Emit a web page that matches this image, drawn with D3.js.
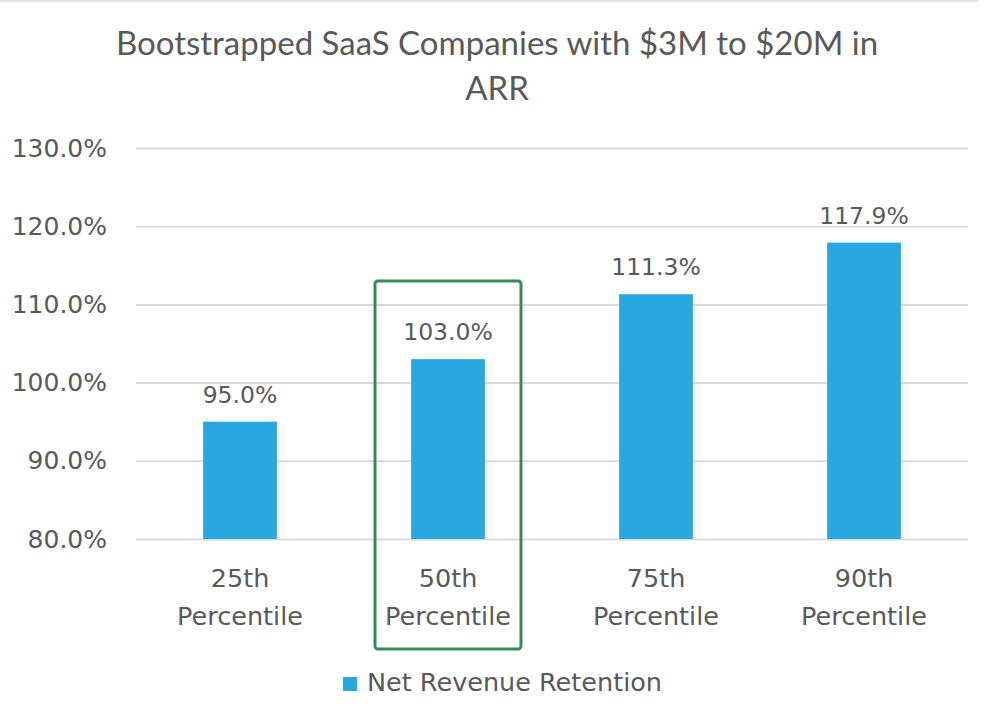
<!DOCTYPE html>
<html>
<head>
<meta charset="utf-8">
<script src="https://cdn.jsdelivr.net/npm/d3@7"></script>
<style>
  body { margin: 0; background: #fff; }
  text { fill: #595959; }
</style>
</head>
<body>
<script>
// chart data
const categories = ["25th|Percentile", "50th|Percentile", "75th|Percentile", "90th|Percentile"];
const values = [95.0, 103.0, 111.3, 117.9];
const yTicks = [80, 90, 100, 110, 120, 130];
const titleLines = ["Bootstrapped SaaS Companies with $3M to $20M in", "ARR"];
const seriesName = "Net Revenue Retention";
const highlighted = "50th|Percentile";

const w = 990, h = 723;
const plotLeft = 136, plotRight = 968, plotTop = 148, plotBottom = 539;
const labelFont = "'DejaVu Sans', sans-serif";

const svg = d3.select("body").append("svg")
  .attr("width", w)
  .attr("height", h);

// faint frame line at top
svg.append("line")
  .attr("x1", 0).attr("x2", 978)
  .attr("y1", 1).attr("y2", 1)
  .attr("stroke", "#e3e3e3").attr("stroke-width", 2);

const x = d3.scaleBand()
  .domain(categories)
  .range([plotLeft, plotRight])
  .paddingInner(0.645)
  .paddingOuter(0.3225);

const y = d3.scaleLinear()
  .domain([80, 130])
  .range([plotBottom, plotTop]);

// title
svg.append("text")
  .attr("x", 497).attr("y", 55)
  .attr("text-anchor", "middle")
  .style("font-family", "Lato, 'Open Sans', sans-serif")
  .style("font-size", "33px")
  .selectAll("tspan")
  .data(titleLines)
  .enter().append("tspan")
  .attr("x", 497)
  .attr("dy", (d, i) => i ? 45 : 0)
  .text(d => d);

// gridlines + y labels
const yAxis = d3.axisLeft(y)
  .tickValues(yTicks)
  .tickSize(-(plotRight - plotLeft))
  .tickPadding(29)
  .tickFormat(d => d.toFixed(1) + "%");

const gy = svg.append("g")
  .attr("transform", "translate(" + plotLeft + ",0)")
  .call(yAxis);
gy.select(".domain").remove();
gy.selectAll(".tick line").attr("stroke", "#d9d9d9").attr("stroke-width", 2);
gy.selectAll(".tick text")
  .style("font-family", labelFont)
  .style("font-size", "25px")
  .attr("fill", "#595959");

// bars
svg.selectAll("rect.bar")
  .data(values)
  .enter()
  .append("rect")
  .attr("class", "bar")
  .attr("x", (d, i) => x(categories[i]))
  .attr("y", d => y(d))
  .attr("width", x.bandwidth())
  .attr("height", d => y(80) - y(d))
  .attr("fill", "#29a8e0");

// value labels
svg.selectAll("text.val")
  .data(values)
  .enter()
  .append("text")
  .attr("class", "val")
  .attr("x", (d, i) => x(categories[i]) + x.bandwidth() / 2)
  .attr("y", d => y(d) - 19)
  .attr("text-anchor", "middle")
  .style("font-family", labelFont)
  .style("font-size", "23.5px")
  .text(d => d.toFixed(1) + "%");

// x labels
const xl = svg.selectAll("text.xl")
  .data(categories)
  .enter()
  .append("text")
  .attr("class", "xl")
  .attr("text-anchor", "middle")
  .style("font-family", labelFont)
  .style("font-size", "25.5px");
xl.selectAll("tspan")
  .data(d => d.split("|").map(s => ({ s: s, c: d })))
  .enter().append("tspan")
  .attr("x", d => x(d.c) + x.bandwidth() / 2)
  .attr("y", (d, i) => 587 + i * 38)
  .text(d => d.s);

// highlight box around 50th percentile
const hx = x(highlighted) + x.bandwidth() / 2;
svg.append("rect")
  .attr("x", hx - 73)
  .attr("y", 281)
  .attr("width", 146)
  .attr("height", 368)
  .attr("rx", 3)
  .attr("fill", "none")
  .attr("stroke", "#3b8a56")
  .attr("stroke-width", 3);

// legend
const lg = svg.append("g").attr("transform", "translate(343,677)");
lg.append("rect")
  .attr("width", 14).attr("height", 14)
  .attr("fill", "#29a8e0");
lg.append("text")
  .attr("x", 24).attr("y", 14)
  .style("font-family", labelFont)
  .style("font-size", "25.5px")
  .text(seriesName);
</script>
</body>
</html>
